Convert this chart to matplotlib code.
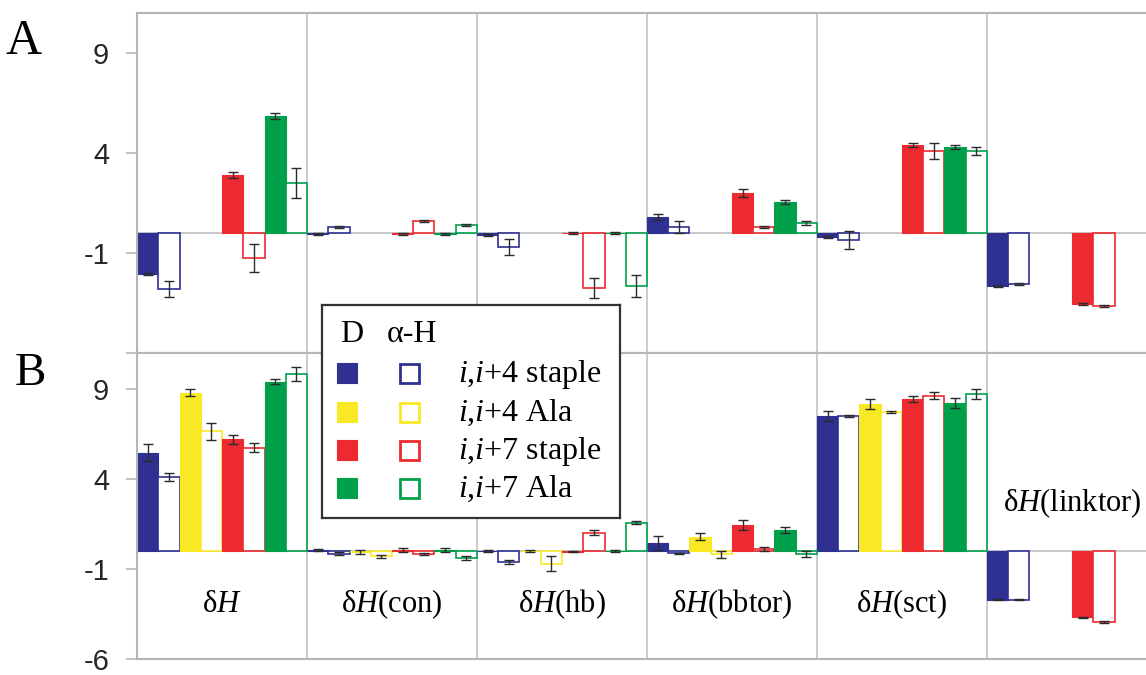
import numpy as np
import matplotlib.pyplot as plt
from matplotlib.patches import Rectangle

plt.rcParams['font.family'] = ['Liberation Serif', 'DejaVu Serif']
plt.rcParams['mathtext.fontset'] = 'custom'
plt.rcParams['mathtext.rm'] = 'Liberation Serif'
plt.rcParams['mathtext.it'] = 'Liberation Serif:italic'

nan = np.nan

# categories
groups = ['δ$\\mathit{H}$', 'δ$\\mathit{H}$(con)', 'δ$\\mathit{H}$(hb)',
          'δ$\\mathit{H}$(bbtor)', 'δ$\\mathit{H}$(sct)', 'δ$\\mathit{H}$(linktor)']
series_names = ['$\\mathit{i}$,$\\mathit{i}$+4 staple', '$\\mathit{i}$,$\\mathit{i}$+4 Ala',
                '$\\mathit{i}$,$\\mathit{i}$+7 staple', '$\\mathit{i}$,$\\mathit{i}$+7 Ala']
colors = ['#2e3192', '#f9e925', '#ec2a30', '#00a04b']

# panel A  (D = filled, H = alpha-helix open)
a_s4_D = [-2.05, -0.05, -0.1, 0.8, -0.2, -2.65]
a_s4_H = [-2.8, 0.3, -0.7, 0.3, -0.35, -2.55]
a_a4_D = [nan, nan, nan, nan, nan, nan]
a_a4_H = [nan, nan, nan, nan, nan, nan]
a_s7_D = [2.9, -0.05, 0.0, 2.0, 4.4, -3.55]
a_s7_H = [-1.25, 0.6, -2.75, 0.3, 4.1, -3.65]
a_a7_D = [5.85, -0.05, 0.0, 1.55, 4.3, nan]
a_a7_H = [2.5, 0.4, -2.65, 0.5, 4.1, nan]

a_s4_D_err = [0.05, 0.03, 0.03, 0.15, 0.05, 0.03]
a_s4_H_err = [0.4, 0.07, 0.4, 0.3, 0.45, 0.07]
a_a4_D_err = [nan, nan, nan, nan, nan, nan]
a_a4_H_err = [nan, nan, nan, nan, nan, nan]
a_s7_D_err = [0.15, 0.03, 0.03, 0.2, 0.08, 0.03]
a_s7_H_err = [0.7, 0.05, 0.5, 0.03, 0.4, 0.05]
a_a7_D_err = [0.17, 0.03, 0.03, 0.08, 0.1, nan]
a_a7_H_err = [0.75, 0.07, 0.55, 0.12, 0.2, nan]

# panel B
b_s4_D = [5.46, 0.05, 0.0, 0.46, 7.5, -2.7]
b_s4_H = [4.1, -0.15, -0.6, -0.13, 7.5, -2.7]
b_a4_D = [8.8, -0.05, 0.0, 0.8, 8.16, nan]
b_a4_H = [6.66, -0.3, -0.7, -0.18, 7.73, nan]
b_s7_D = [6.2, 0.05, -0.05, 1.45, 8.44, -3.67]
b_s7_H = [5.74, -0.15, 1.02, 0.1, 8.62, -3.95]
b_a7_D = [9.4, 0.05, 0.0, 1.17, 8.2, nan]
b_a7_H = [9.83, -0.4, 1.58, -0.17, 8.72, nan]

b_s4_D_err = [0.47, 0.05, 0.03, 0.4, 0.28, 0.03]
b_s4_H_err = [0.22, 0.07, 0.1, 0.03, 0.03, 0.03]
b_a4_D_err = [0.19, 0.1, 0.03, 0.2, 0.26, nan]
b_a4_H_err = [0.47, 0.1, 0.4, 0.2, 0.05, nan]
b_s7_D_err = [0.25, 0.1, 0.03, 0.3, 0.17, 0.03]
b_s7_H_err = [0.26, 0.05, 0.12, 0.1, 0.19, 0.05]
b_a7_D_err = [0.14, 0.1, 0.03, 0.15, 0.28, nan]
b_a7_H_err = [0.37, 0.1, 0.08, 0.15, 0.28, nan]

panel_a = [(a_s4_D, a_s4_D_err, a_s4_H, a_s4_H_err),
           (a_a4_D, a_a4_D_err, a_a4_H, a_a4_H_err),
           (a_s7_D, a_s7_D_err, a_s7_H, a_s7_H_err),
           (a_a7_D, a_a7_D_err, a_a7_H, a_a7_H_err)]
panel_b = [(b_s4_D, b_s4_D_err, b_s4_H, b_s4_H_err),
           (b_a4_D, b_a4_D_err, b_a4_H, b_a4_H_err),
           (b_s7_D, b_s7_D_err, b_s7_H, b_s7_H_err),
           (b_a7_D, b_a7_D_err, b_a7_H, b_a7_H_err)]

fig = plt.figure(figsize=(11.46, 6.75), dpi=100)
ax_a = fig.add_axes([137 / 1146, 1 - 353 / 675, 1009 / 1146, 340 / 675])
ax_b = fig.add_axes([137 / 1146, 1 - 659 / 675, 1009 / 1146, 306 / 675])

n_groups = len(groups)
gx = np.arange(n_groups)
w = 1 / 8
grey = '#bdbdbd'


def draw_panel(ax, data):
    ax.axhline(0, color=grey, lw=1.2, zorder=1)
    for v in range(1, n_groups):
        ax.axvline(v, color='#c4c4c4', lw=1.2, zorder=0)
    for s, (d, d_err, h, h_err) in enumerate(data):
        c = colors[s]
        xd = gx + (2 * s) * w
        xh = gx + (2 * s + 1) * w
        ax.bar(xd, d, width=w, align='edge', color=c, edgecolor=c, lw=0.8, zorder=2)
        ax.bar(xh, h, width=w, align='edge', color='white', edgecolor=c, lw=1.2, zorder=2)
        ax.errorbar(xd + w / 2, d, yerr=d_err, fmt='none', ecolor='#2b2b2b',
                    elinewidth=1.0, capsize=3.5, capthick=1.0, zorder=3)
        ax.errorbar(xh + w / 2, h, yerr=h_err, fmt='none', ecolor='#2b2b2b',
                    elinewidth=1.0, capsize=3.5, capthick=1.0, zorder=3)
    ax.set_xlim(0, 1009 / 170)
    ax.set_ylim(-6, 11)
    ax.set_xticks([])
    ax.spines['right'].set_visible(False)
    for sp in ['left', 'top', 'bottom']:
        ax.spines[sp].set_color('#b5b5b5')
        ax.spines[sp].set_linewidth(1.5)
    ax.tick_params(axis='y', direction='out', length=8, width=1.2, color='#b5b5b5',
                   pad=12, labelsize=21, labelcolor='#262626')


draw_panel(ax_a, panel_a)
draw_panel(ax_b, panel_b)
ax_a.set_yticks([-6, -1, 4, 9])
ax_a.set_yticklabels(['', '-1', '4', '9'], family='Liberation Sans')
ax_b.set_yticks([-6, -1, 4, 9])
ax_b.set_yticklabels(['-6', '-1', '4', '9'], family='Liberation Sans')

# category labels
for g in range(n_groups):
    if g < n_groups - 1:
        ax_b.text(g + 0.5, -2.95, groups[g], ha='center', va='center', fontsize=22)
    else:
        ax_b.text(g + 0.5, 2.65, groups[g], ha='center', va='center', fontsize=22)

# panel letters
fig.text(24 / 1146, 1 - 42 / 675, 'A', fontsize=36, ha='center', va='center')
fig.text(30 / 1146, 1 - 374 / 675, 'B', fontsize=34, ha='center', va='center')

# legend box
lg = fig.add_axes([322 / 1146, 1 - 518 / 675, 298 / 1146, 213 / 675], zorder=10)
lg.set_xlim(0, 298)
lg.set_ylim(213, 0)
lg.set_xticks([])
lg.set_yticks([])
for sp in lg.spines.values():
    sp.set_color('#333333')
    sp.set_linewidth(1.6)
lg.text(30, 29, 'D', fontsize=23, ha='center', va='center')
lg.text(90, 29, 'α-H', fontsize=23, ha='center', va='center')
row_y = [68, 107, 145, 183]
for s in range(4):
    c = colors[s]
    lg.add_patch(Rectangle((15, row_y[s] - 10), 20, 20, facecolor=c, edgecolor=c, lw=0.8))
    lg.add_patch(Rectangle((78, row_y[s] - 9), 19, 19, facecolor='white', edgecolor=c, lw=2.0))
    lg.text(136, row_y[s] + 1, series_names[s], fontsize=23, ha='left', va='center')

fig.savefig('out.png', dpi=100)
